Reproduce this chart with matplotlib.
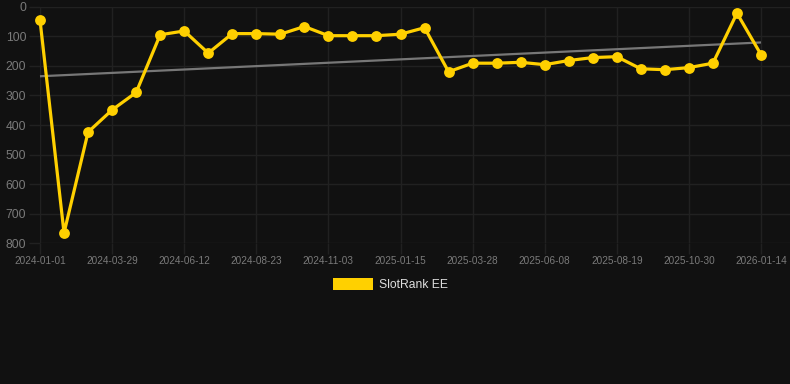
import numpy as np
import matplotlib
matplotlib.use("Agg")
import matplotlib.pyplot as plt
from matplotlib.patches import Rectangle

# ---- data ----
ranks = [45, 765, 424, 349, 290, 95, 82, 157, 91, 91,
         93, 67, 98, 98, 98, 93, 71, 220, 191, 191,
         188, 196, 182, 172, 169, 210, 213, 206, 191, 22, 162]
tick_labels = ["2024-01-01", "2024-03-29", "2024-06-12", "2024-08-23", "2024-11-03",
               "2025-01-15", "2025-03-28", "2025-06-08", "2025-08-19", "2025-10-30",
               "2026-01-14"]
series_name = "SlotRank EE"
y_ticks = [0, 100, 200, 300, 400, 500, 600, 700, 800]

# ---- style ----
BG = "#111111"
GRID = "#212121"
TICKC = "#7a7a7a"
GOLD = "#FFD000"
TREND = "#777777"
plt.rcParams['font.family'] = ['Liberation Sans', 'DejaVu Sans']

W, H = 790, 384
fig = plt.figure(figsize=(W / 100, H / 100), dpi=100, facecolor=BG)

left_px, right_px, top_px, bottom_px = 40, 790, 6.7, 243.3
ax = fig.add_axes([left_px / W, 1 - bottom_px / H,
                   (right_px - left_px) / W, (bottom_px - top_px) / H])
ax.set_facecolor(BG)

x = np.arange(len(ranks))
step = (761 - 40) / (len(ranks) - 1)
ax.set_xlim(0, (right_px - left_px) / step)
ax.set_ylim(800, 0)

# trend line (linear regression)
coef = np.polyfit(x, ranks, 1)
ax.plot([x[0], x[-1]], np.polyval(coef, [x[0], x[-1]]), color=TREND, lw=1.6,
        solid_capstyle='butt', zorder=2, clip_on=False)

ax.plot(x, ranks, color=GOLD, lw=2.3, marker='o', markersize=7.8,
        markeredgewidth=0, zorder=3, clip_on=False)

ax.set_yticks(y_ticks)
ax.set_yticklabels([str(v) for v in y_ticks])
ax.set_xticks(x[::3])
ax.set_xticklabels(tick_labels)

ax.grid(True, color=GRID, lw=1)
ax.set_axisbelow(True)
for s in ax.spines.values():
    s.set_visible(False)
ax.tick_params(axis='y', length=8, width=1, color=GRID, labelcolor=TICKC,
               labelsize=8.7, pad=2)
ax.tick_params(axis='x', length=8, width=1, color=GRID, labelcolor=TICKC,
               labelsize=7.2, pad=1)

# legend
fig.patches.append(Rectangle((333 / W, 1 - 290 / H), 40 / W, 12 / H,
                             transform=fig.transFigure, facecolor=GOLD,
                             edgecolor='none'))
fig.text(379 / W, 1 - 285 / H, series_name, color="#dddddd", fontsize=8.7,
         va='center', ha='left')

fig.savefig("out.png", dpi=100, facecolor=BG)
